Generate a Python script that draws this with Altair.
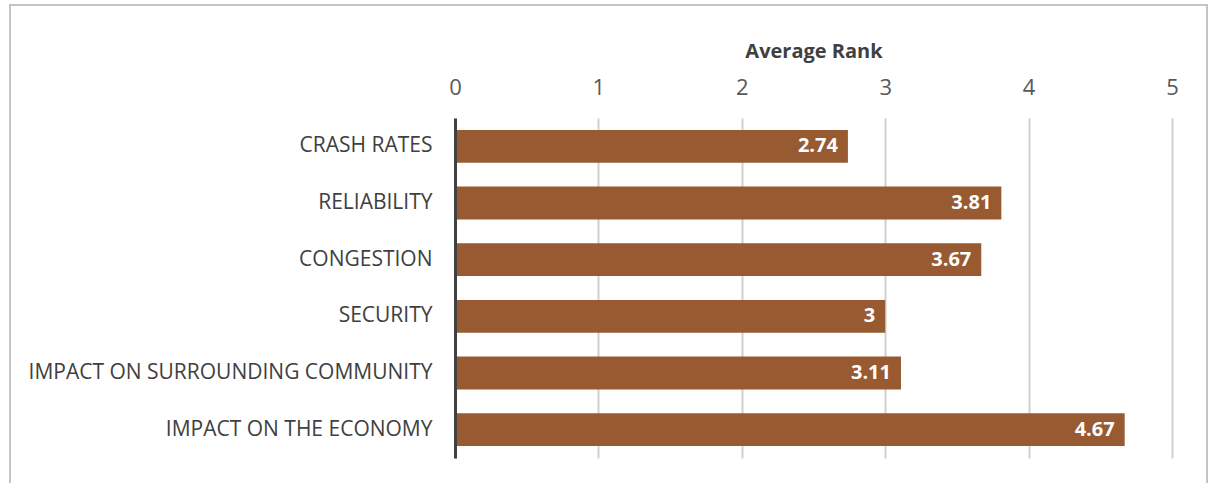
import altair as alt
import pandas as pd

categories = [
    "CRASH RATES",
    "RELIABILITY",
    "CONGESTION",
    "SECURITY",
    "IMPACT ON SURROUNDING COMMUNITY",
    "IMPACT ON THE ECONOMY",
]
values = [2.74, 3.81, 3.67, 3.0, 3.11, 4.67]
value_labels = ["2.74", "3.81", "3.67", "3", "3.11", "4.67"]
x_ticks = [0, 1, 2, 3, 4, 5]

df = pd.DataFrame({"cat": categories, "val": values, "lab": value_labels})

FONT = "Open Sans"
BAR = "#985a31"

x_enc = alt.X(
    "val:Q",
    scale=alt.Scale(domain=[0, 5], nice=False),
    axis=alt.Axis(
        orient="top",
        title="Average Rank",
        titleFont=FONT,
        titleFontSize=20,
        titleFontWeight="bold",
        titleColor="#404040",
        titlePadding=15,
        values=x_ticks,
        format="d",
        labelFont=FONT,
        labelFontSize=22,
        labelColor="#595959",
        labelPadding=19,
        labelFlush=False,
        domain=False,
        ticks=False,
        grid=True,
        gridColor="#cfcfcf",
        gridWidth=2,
    ),
)
y_enc = alt.Y(
    "cat:N",
    sort=categories,
    scale=alt.Scale(paddingInner=0.42, paddingOuter=0.21),
    axis=alt.Axis(
        title=None,
        labelFont=FONT,
        labelFontSize=21,
        labelColor="#404040",
        labelPadding=23,
        labelLimit=500,
        ticks=False,
        domain=True,
        domainColor="#404040",
        domainWidth=3,
        grid=False,
        zindex=1,
    ),
)

frame = alt.Chart(df).mark_rect(
    filled=False, stroke="#c4c4c4", strokeWidth=2, clip=False
).encode(
    x=alt.value(-445), x2=alt.value(752), y=alt.value(-113), y2=alt.value(420)
)

bars = alt.Chart(df).mark_bar(color=BAR).encode(x=x_enc, y=y_enc)

labels = alt.Chart(df).mark_text(
    align="right", dx=-10, font=FONT, fontSize=20, fontWeight="bold", color="white"
).encode(
    x=alt.X("val:Q"),
    y=alt.Y("cat:N", sort=categories),
    text="lab:N",
)

chart = (
    alt.layer(frame, bars, labels)
    .properties(
        width=717,
        height=340,
        autosize=alt.AutoSizeParams(type="none"),
        padding={"left": 455, "top": 118, "right": 37, "bottom": 25},
        background="white",
    )
    .configure_view(stroke=None)
)

chart.save("out.html", embed_options={"renderer": "svg", "actions": False})
